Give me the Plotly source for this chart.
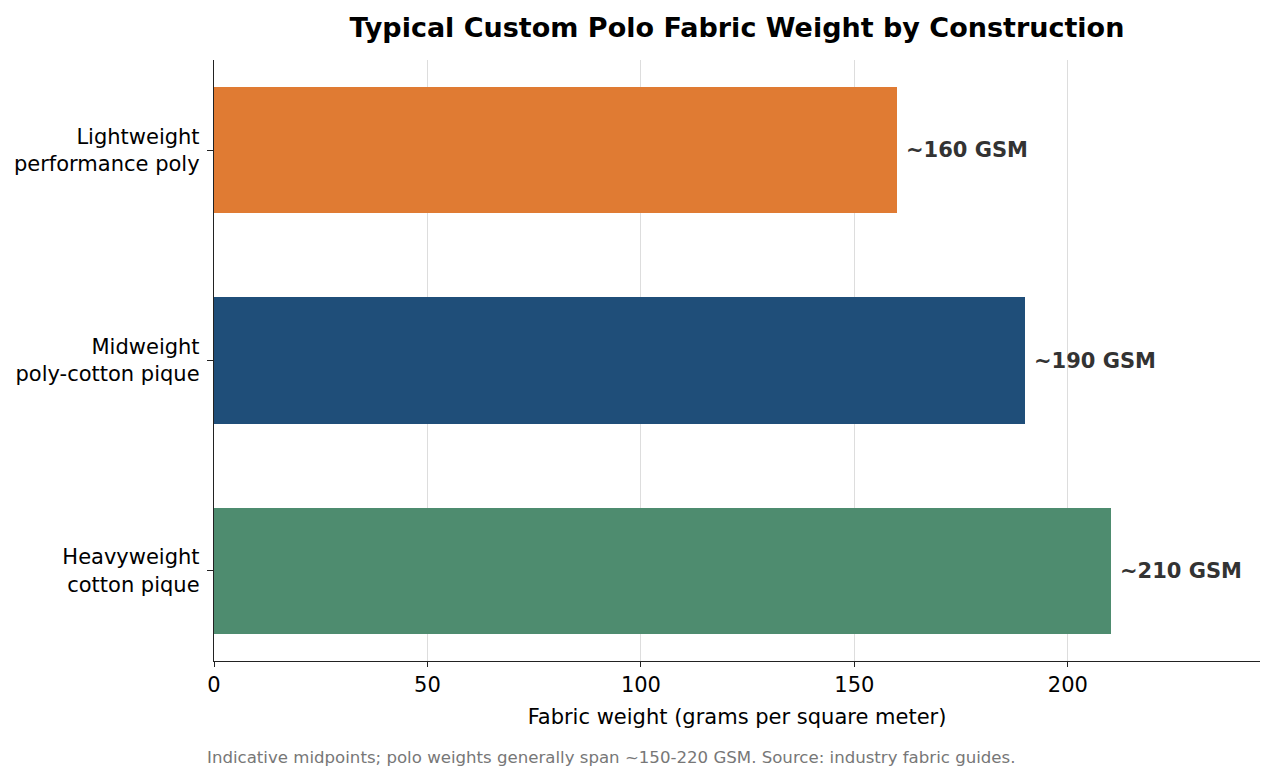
import plotly.graph_objects as go

# data (bottom to top)
categories = ["Heavyweight<br>cotton pique", "Midweight<br>poly-cotton pique",
              "Lightweight<br>performance poly"]
weights = [210, 190, 160]
labels = ["~210 GSM", "~190 GSM", "~160 GSM"]
bar_colors = ["#4e8c6f", "#1f4e79", "#e07b33"]

title = "Typical Custom Polo Fabric Weight by Construction"
x_title = "Fabric weight (grams per square meter)"
caption = ("Indicative midpoints; polo weights generally span ~150-220 GSM. "
           "Source: industry fabric guides.")

font = "DejaVu Sans"

fig = go.Figure()
fig.add_trace(go.Bar(x=weights, y=list(range(len(categories))),
                     orientation="h", width=0.6,
                     marker_color=bar_colors, marker_line_width=0,
                     hoverinfo="skip", showlegend=False))

# value labels to the right of each bar
for i, (w, lab) in enumerate(zip(weights, labels)):
    fig.add_annotation(x=w, y=i, text="<b>" + lab + "</b>", showarrow=False,
                       xanchor="left", xshift=7, yanchor="middle",
                       font=dict(family=font, size=21, color="#333333"))

fig.add_annotation(text=caption, xref="paper", yref="paper",
                   x=-0.0086, y=-0.16, xanchor="left", yanchor="middle",
                   showarrow=False,
                   font=dict(family=font, size=16.6, color="#777777"))

fig.update_layout(
    width=1275, height=781,
    margin=dict(l=214, r=15, t=60, b=120),
    plot_bgcolor="white", paper_bgcolor="white",
    font=dict(family=font, size=21, color="black"),
    title=dict(text="<b>" + title + "</b>", x=0.578, xanchor="center",
               y=0.965, yanchor="middle",
               font=dict(family=font, size=27, color="black")),
    bargap=0,
)
fig.update_xaxes(range=[0, 245], tickvals=[0, 50, 100, 150, 200],
                 showgrid=True, gridcolor="#dddddd", gridwidth=1.3,
                 showline=True, linecolor="#222222", linewidth=1.4,
                 ticks="outside", ticklen=5, tickcolor="#222222",
                 zeroline=False,
                 title=dict(text=x_title, standoff=12,
                            font=dict(family=font, size=21)))
fig.update_yaxes(range=[-0.43, 2.43], tickvals=list(range(len(categories))),
                 ticktext=categories, showgrid=False,
                 showline=True, linecolor="#222222", linewidth=1.4,
                 ticks="outside", ticklen=6, tickcolor="#222222",
                 ticklabelstandoff=3, zeroline=False)

fig.write_html("out.html", config={"displayModeBar": False},
               post_script="document.body.style.margin='0';")
